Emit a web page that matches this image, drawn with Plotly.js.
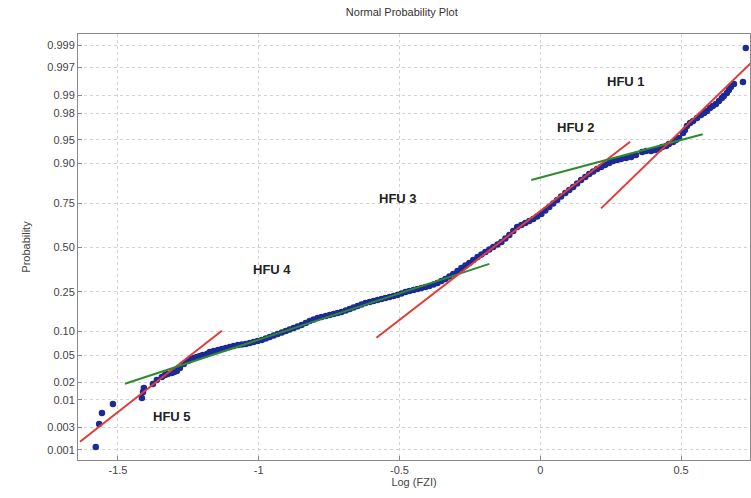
<!DOCTYPE html>
<html>
<head>
<meta charset="utf-8">
<script src="https://cdn.plot.ly/plotly-3.0.1.min.js"></script>
<style>html,body{margin:0;padding:0;background:#fff}#chart{width:751px;height:498px}</style>
</head>
<body>
<div id="chart"></div>
<script>
// Sample points: Log(FZI) and normal quantile score (z)
const logFZI = [-1.579,-1.567,-1.557,-1.518,-1.415,-1.411,-1.408,-1.376,-1.362,-1.344,-1.333,-1.309,-1.291,-1.280,-1.266,-1.252,-1.230,-1.209,-1.184,-1.160,-1.131,-1.103,-1.074,-1.046,-1.018,-0.989,-0.961,-0.933,-0.904,-0.876,-0.848,-0.819,-0.791,-0.762,-0.734,-0.706,-0.677,-0.649,-0.621,-0.592,-0.564,-0.535,-0.507,-0.479,-0.450,-0.422,-0.394,-0.365,-0.337,-0.309,-0.280,-0.252,-0.223,-0.195,-0.167,-0.138,-0.110,-0.082,-0.053,-0.025,0.004,0.032,0.060,0.089,0.117,0.145,0.174,0.202,0.230,0.259,0.287,0.323,0.340,0.362,0.394,0.422,0.447,0.472,0.493,0.507,0.521,0.543,0.571,0.592,0.613,0.635,0.652,0.670,0.688,0.720,0.730,
  -1.323,-1.301,-1.241,-1.220,-1.199,-1.174,
  -1.145,-1.117,-1.089,-1.060,-1.032,-1.004,-0.975,-0.947,-0.918,-0.890,-0.862,-0.833,-0.805,-0.777,-0.748,-0.720,-0.691,-0.663,-0.635,-0.606,-0.578,-0.550,-0.521,-0.493,-0.465,-0.436,-0.408,-0.379,-0.351,-0.323,-0.294,-0.266,-0.238,-0.209,-0.181,-0.152,-0.124,-0.096,-0.067,-0.039,-0.011,0.018,0.046,0.074,0.103,0.131,0.160,0.188,0.216,0.245,0.273,
  0.305,0.376,0.408,0.433,0.457,
  0.482,0.514,0.532,0.557,0.582,0.603,0.624,0.645,0.663,0.677];
const zScore = [-3.046,-2.695,-2.527,-2.389,-2.298,-2.206,-2.145,-2.084,-2.023,-1.977,-1.947,-1.916,-1.885,-1.840,-1.779,-1.733,-1.687,-1.656,-1.626,-1.580,-1.550,-1.519,-1.489,-1.473,-1.443,-1.412,-1.366,-1.321,-1.275,-1.229,-1.183,-1.122,-1.076,-1.046,-1.015,-0.985,-0.939,-0.893,-0.847,-0.817,-0.786,-0.756,-0.725,-0.679,-0.649,-0.618,-0.588,-0.542,-0.481,-0.405,-0.313,-0.237,-0.145,-0.069,0.008,0.084,0.191,0.313,0.374,0.435,0.511,0.618,0.725,0.832,0.924,1.031,1.122,1.198,1.260,1.321,1.351,1.382,1.412,1.458,1.473,1.504,1.550,1.611,1.672,1.748,1.855,1.931,2.023,2.084,2.160,2.237,2.313,2.405,2.496,2.527,3.046,
  -1.931,-1.901,-1.702,-1.672,-1.641,-1.595,
  -1.565,-1.534,-1.504,-1.481,-1.458,-1.427,-1.389,-1.344,-1.298,-1.252,-1.206,-1.153,-1.099,-1.061,-1.031,-1.000,-0.962,-0.916,-0.870,-0.832,-0.802,-0.771,-0.740,-0.702,-0.664,-0.634,-0.603,-0.565,-0.511,-0.443,-0.359,-0.275,-0.191,-0.107,-0.031,0.046,0.137,0.252,0.344,0.405,0.473,0.565,0.672,0.779,0.878,0.977,1.076,1.160,1.229,1.290,1.336,
  1.366,1.473,1.489,1.534,1.580,
  1.641,1.794,1.901,1.977,2.053,2.130,2.191,2.282,2.359,2.450];

// Fitted HFU lines: [x start, x end] and [z start, z end]
const hfuNames = ["HFU 5","HFU 4","HFU 3","HFU 2","HFU 1"];
const fitX = [[-1.635,-1.131],[-1.475,-0.181],[-0.582,0.319],[-0.032,0.577],[0.216,0.748]];
const fitZ = [[-2.965,-1.270],[-2.080,-0.250],[-1.377,1.615],[1.031,1.728],[0.598,2.817]];
const fitColor = ["#e23b35","#2f8a2f","#e23b35","#2f8a2f","#e23b35"];

// Y tick labels (probabilities) and x ticks
const probTicks = ["0.001","0.003","0.01","0.02","0.05","0.10","0.25","0.50","0.75","0.90","0.95","0.98","0.99","0.997","0.999"];
const xTicks = [-1.5,-1,-0.5,0,0.5];
const xTickText = ["-1.5","-1","-0.5","0","0.5"];

function norminv(p){
  const a=[-3.969683028665376e+01,2.209460984245205e+02,-2.759285104469687e+02,1.383577518672690e+02,-3.066479806614716e+01,2.506628277459239e+00];
  const b=[-5.447609879822406e+01,1.615858368580409e+02,-1.556989798598866e+02,6.680131188771972e+01,-1.328068155288572e+01];
  const c=[-7.784894002430293e-03,-3.223964580411365e-01,-2.400758277161838e+00,-2.549732539343734e+00,4.374664141464968e+00,2.938163982698783e+00];
  const d=[7.784695709041462e-03,3.224671290700398e-01,2.445134137142996e+00,3.754408661907416e+00];
  const pl=0.02425, ph=1-pl; let q,r;
  if(p<pl){q=Math.sqrt(-2*Math.log(p));return (((((c[0]*q+c[1])*q+c[2])*q+c[3])*q+c[4])*q+c[5])/((((d[0]*q+d[1])*q+d[2])*q+d[3])*q+1);}
  if(p<=ph){q=p-0.5;r=q*q;return (((((a[0]*r+a[1])*r+a[2])*r+a[3])*r+a[4])*r+a[5])*q/(((((b[0]*r+b[1])*r+b[2])*r+b[3])*r+b[4])*r+1);}
  q=Math.sqrt(-2*Math.log(1-p));return -(((((c[0]*q+c[1])*q+c[2])*q+c[3])*q+c[4])*q+c[5])/((((d[0]*q+d[1])*q+d[2])*q+d[3])*q+1);
}

const traces = [{
  x: logFZI, y: zScore, type:'scatter', mode:'markers',
  marker:{color:'#1c2a96', size:6.5}, hoverinfo:'skip', showlegend:false
}];
for(let i=0;i<fitX.length;i++){
  traces.push({x: fitX[i], y: fitZ[i], type:'scatter', mode:'lines',
    line:{color: fitColor[i], width:2}, name: hfuNames[i], showlegend:false, hoverinfo:'skip'});
}

const annPos = [[-1.309,-2.583],[-0.954,-0.328],[-0.504,0.751],[0.128,1.829],[0.305,2.531]];
const annotations = hfuNames.map((t,i)=>({x:annPos[i][0], y:annPos[i][1], xref:'x', yref:'y', text:'<b>'+t+'</b>', showarrow:false,
  font:{family:'Liberation Sans, Arial, sans-serif', size:13, color:'#222'}}));

const axisCommon = {showline:true, mirror:true, linecolor:'#8a8a8a', linewidth:1, ticks:'inside', ticklen:4, tickcolor:'#8a8a8a',
  showgrid:true, gridcolor:'#d2d2d2', griddash:'dot', gridwidth:1, zeroline:false,
  tickfont:{family:'Liberation Sans, Arial, sans-serif', size:11, color:'#444'}};

const layout = {
  width:751, height:498,
  margin:{l:78, r:1, t:34, b:38},
  paper_bgcolor:'#fff', plot_bgcolor:'#fff',
  title:{text:'Normal Probability Plot', x:0.535, xanchor:'center', y:0.975, yanchor:'middle',
    font:{family:'Liberation Sans, Arial, sans-serif', size:11, color:'#333'}},
  xaxis:Object.assign({}, axisCommon, {range:[-1.642,0.745], tickvals:xTicks, ticktext:xTickText,
    title:{text:'Log (FZI)', standoff:2, font:{family:'Liberation Sans, Arial, sans-serif', size:11, color:'#444'}}}),
  yaxis:Object.assign({}, axisCommon, {range:[-3.244,3.26], tickvals:probTicks.map(s=>norminv(parseFloat(s))), ticktext:probTicks,
    title:{text:'Probability', standoff:14, font:{family:'Liberation Sans, Arial, sans-serif', size:11, color:'#444'}}}),
  annotations: annotations
};

Plotly.newPlot('chart', traces, layout, {displayModeBar:false, staticPlot:true});
</script>
</body>
</html>
